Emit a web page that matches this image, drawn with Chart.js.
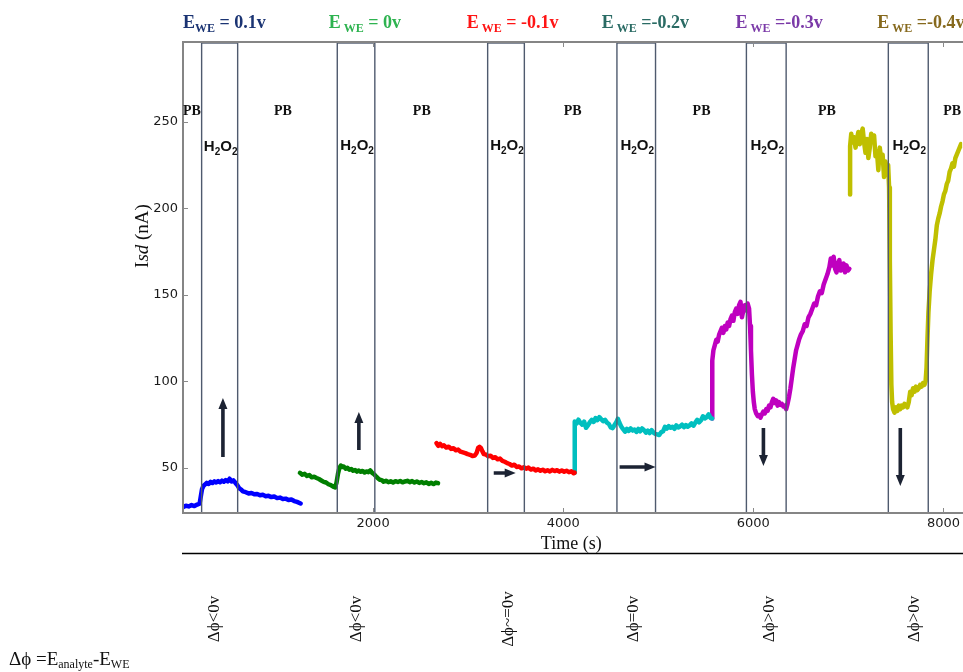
<!DOCTYPE html>
<html>
<head>
<meta charset="utf-8">
<script src="https://cdn.jsdelivr.net/npm/chart.js@4.4.1/dist/chart.umd.min.js"></script>
<style>
  html, body { margin: 0; padding: 0; background: #ffffff; }
  #wrap { width: 963px; height: 672px; position: relative; }
</style>
</head>
<body>
<div id="wrap"><canvas id="chart"></canvas></div>
<script>
// ---- axis ticks ----
const xTicks = [2000, 4000, 6000, 8000];
const yTicks = [50, 100, 150, 200, 250];

// ---- source-drain current traces, one per working-electrode potential ----
// E_WE = 0.1 V
const blueT = [0,30,60,90,120,150,175,190,200,215,230,250,270,290,310,330,350,370,390,410,430,450,470,490,510,530,550,570,590,610,630,660,690,720,750,780,810,840,870,900,930,960,990,1020,1050,1080,1110,1140,1170,1200,1237];
const blueI = [27.4,28.2,27.8,28.6,28.0,28.9,29.4,34.5,37.8,39.6,40.4,41.4,40.8,42.0,41.3,42.3,41.6,42.4,41.8,42.7,42.1,43.0,42.3,43.8,42.2,42.9,41.5,40.2,38.4,37.6,36.5,36.0,35.3,35.6,34.8,35.0,34.2,34.5,33.7,33.9,33.2,33.5,32.6,32.9,32.1,32.3,31.5,31.8,30.9,30.4,29.5];
// E_WE = 0 V
const greenT = [1230,1255,1280,1305,1330,1355,1380,1405,1430,1455,1480,1505,1530,1555,1580,1600,1615,1630,1645,1660,1675,1690,1710,1730,1750,1770,1790,1810,1830,1850,1870,1890,1910,1930,1950,1970,1990,2010,2030,2050,2070,2090,2110,2135,2160,2185,2210,2235,2260,2285,2310,2335,2360,2385,2410,2435,2460,2485,2510,2535,2560,2585,2610,2635,2660,2683];
const greenI = [47.2,46.1,46.6,45.4,45.9,44.6,44.9,44.2,43.6,42.8,42.0,41.6,40.6,40.1,39.2,38.8,41.5,46.5,50.0,51.4,50.6,50.9,49.6,50.1,49.0,49.4,48.4,48.8,47.9,48.5,47.8,48.3,47.4,48.0,47.6,48.6,47.2,46.4,45.2,44.1,43.2,43.0,42.1,42.6,41.8,42.3,41.6,42.4,41.9,42.5,41.7,42.2,42.6,41.8,42.4,41.6,42.2,41.4,41.9,41.2,41.7,40.8,41.4,40.7,41.6,41.2];
// E_WE = -0.1 V
const redT = [2666,2685,2705,2725,2745,2770,2795,2820,2845,2870,2895,2920,2945,2970,2995,3020,3045,3070,3090,3105,3120,3135,3150,3165,3185,3210,3235,3260,3285,3310,3335,3360,3385,3410,3435,3460,3485,3510,3535,3560,3585,3610,3635,3660,3685,3710,3735,3760,3785,3810,3835,3860,3885,3910,3935,3960,3985,4010,4035,4060,4085,4110,4120];
const redI = [64.4,62.8,63.9,62.6,63.1,61.8,62.3,61.0,61.4,60.2,60.6,59.4,59.0,58.6,58.0,57.6,56.9,57.2,58.8,61.6,62.2,61.4,59.6,58.0,57.8,56.8,57.1,55.8,56.2,55.0,55.4,54.1,53.6,52.8,52.3,51.4,51.9,50.6,50.9,49.8,50.4,49.6,50.2,49.1,49.6,48.6,49.2,48.4,49.0,48.1,48.7,48.0,48.9,48.2,48.7,47.9,48.6,47.8,48.4,47.6,48.1,47.0,47.3];
// E_WE = -0.2 V
const cyanT = [4120,4121,4140,4160,4180,4200,4220,4240,4260,4280,4300,4320,4340,4360,4380,4400,4420,4440,4460,4480,4500,4520,4540,4560,4575,4590,4610,4630,4650,4670,4690,4710,4730,4750,4770,4790,4810,4830,4850,4870,4890,4910,4930,4950,4970,4990,5010,5030,5050,5070,5090,5110,5130,5150,5170,5190,5210,5230,5250,5270,5290,5310,5330,5350,5370,5390,5410,5430,5450,5470,5490,5510,5530,5550,5567];
const cyanI = [47.3,76.8,75.6,77.9,76.2,75.0,76.8,73.2,74.6,76.4,77.8,76.6,78.8,77.6,79.4,78.2,77.0,77.8,76.2,75.4,73.4,73.0,74.8,76.6,78.4,76.2,74.0,72.4,71.0,72.6,71.4,72.8,71.6,72.2,70.8,72.6,71.2,72.8,71.8,70.4,71.6,70.2,71.8,70.4,69.6,69.4,69.0,70.6,71.2,73.8,72.8,74.2,73.2,73.8,72.6,74.6,73.4,74.0,75.0,73.6,74.8,73.8,74.6,75.8,74.4,76.2,77.8,76.4,77.6,79.8,78.6,79.4,81.0,78.8,78.6];
// E_WE = -0.3 V
const magentaT = [5567,5568,5580,5595,5610,5625,5640,5655,5670,5685,5700,5715,5730,5745,5760,5775,5790,5805,5820,5835,5850,5865,5880,5895,5910,5925,5940,5955,5965,5975,5985,5995,6005,6015,6030,6045,6060,6075,6090,6105,6120,6135,6150,6165,6180,6195,6210,6225,6240,6255,6270,6285,6300,6315,6330,6345,6360,6375,6390,6405,6420,6435,6450,6465,6480,6500,6520,6540,6560,6580,6600,6620,6640,6660,6680,6700,6720,6740,6760,6780,6800,6815,6830,6845,6860,6875,6890,6905,6920,6935,6950,6965,6980,6995,7010,7028];
const magentaI = [78.6,112,118,121,124,123,127,129,131,128,132,130,134,132,136,138,135,140,142,139,144,146,137,141,144,141,145,142,132,118,104,94,88,84,81.5,80,80.5,79,81,82.5,81.5,84,83,86,85,88,90,87.5,89,86,88,86.5,87,85.5,86,84,87,91,96,102,108,113,118,121,124,127,129,133,132,137,139,142,145,144,149,152,151,156,159,162,166,171,167,172,165,163,168,170,164,166,168,163,167,164,165];
// E_WE = -0.4 V
const yellowT = [7017,7018,7030,7045,7060,7075,7090,7105,7120,7135,7150,7165,7180,7195,7210,7225,7240,7255,7270,7285,7300,7315,7330,7345,7360,7375,7390,7405,7418,7428,7436,7444,7452,7460,7470,7485,7500,7515,7530,7545,7560,7575,7590,7605,7620,7635,7650,7665,7680,7695,7710,7725,7740,7755,7770,7785,7800,7812,7822,7832,7842,7855,7870,7885,7900,7915,7930,7945,7960,7975,7990,8005,8020,8035,8050,8065,8080,8095,8110,8125,8140,8155,8170,8185,8197];
const yellowI = [208,236,243,238,241,235,240,244,237,243,246,238,232,240,229,235,243,239,242,230,233,222,235,228,231,218,227,221,225,212,170,128,98,88,84,82,85,83,86,84,86,85,87,86,85,88,94,92,96,94,97,95,96,98,97,99,98,100,108,125,140,152,162,170,176,182,190,194,197,201,204,208,210,214,216,221,223,226,224,229,231,233,235,237,236];

// ---- H2O2 exposure windows (s) ----
const h2o2Start = [196, 1623, 3205, 4565, 5927, 7420];
const h2o2End   = [575, 2018, 3591, 4971, 6345, 7840];

// ---- labels ----
const eweValues = [' = 0.1v', ' = 0v', ' = -0.1v', ' =-0.2v', ' =-0.3v', ' =-0.4v'];
const eweColors = ['#1b3473', '#2eb350', '#ff1414', '#2a6b64', '#7b3aa8', '#86691d'];
const deltaLabels = ['\u0394\u03d5<0v', '\u0394\u03d5<0v', '\u0394\u03d5~=0v', '\u0394\u03d5=0v', '\u0394\u03d5>0v', '\u0394\u03d5>0v'];

// ---- annotation placement (time axis, s; current axis, nA) ----
const eweLabelAt = [0, 1534, 2985, 4404, 5812, 7304];
const pbLabelAt = [0, 1051, 2512, 4099, 5455, 6774, 8092];
const deltaLabelAt = [336, 1829, 3426, 4740, 6169, 7693];
const arrowFrom = [[420, 56.3], [1850, 60.4], [3269, 47.1], [4593, 50.6], [6106, 73.1], [7546, 73.1]];
const arrowTo   = [[420, 90.4], [1850, 82.3], [3500, 47.1], [4971, 50.6], [6106, 51.2], [7546, 39.6]];

const pts = (t, v) => t.map((x, i) => ({ x: x, y: v[i] }));
const trace = (t, v, color) => ({
  data: pts(t, v), borderColor: color, backgroundColor: color,
  borderWidth: 4.5, pointRadius: 0, tension: 0, fill: false,
  borderJoinStyle: 'round', borderCapStyle: 'round'
});

const SERIF = '"Liberation Serif", "Times New Roman", serif';
const SANS = '"Liberation Sans", Arial, sans-serif';

function richText(ctx, x, y, parts, color) {
  let cx = x;
  for (const p of parts) {
    ctx.font = p.font;
    ctx.fillStyle = p.color || color;
    ctx.fillText(p.t, cx, y + (p.dy || 0));
    cx += ctx.measureText(p.t).width;
  }
  return cx - x;
}
function richWidth(ctx, parts) {
  let w = 0;
  for (const p of parts) { ctx.font = p.font; w += ctx.measureText(p.t).width; }
  return w;
}

function arrow(ctx, x0, y0, x1, y1) {
  const ang = Math.atan2(y1 - y0, x1 - x0);
  const len = Math.hypot(x1 - x0, y1 - y0);
  const headL = 11, headW = 4.5, shaft = 1.8;
  ctx.save();
  ctx.translate(x0, y0);
  ctx.rotate(ang);
  ctx.fillStyle = '#1c2333';
  ctx.beginPath();
  ctx.moveTo(0, -shaft);
  ctx.lineTo(len - headL, -shaft);
  ctx.lineTo(len - headL, -headW);
  ctx.lineTo(len, 0);
  ctx.lineTo(len - headL, headW);
  ctx.lineTo(len - headL, shaft);
  ctx.lineTo(0, shaft);
  ctx.closePath();
  ctx.fill();
  ctx.restore();
}

const decor = {
  id: 'decor',
  afterDatasetsDraw(chart) {
    const { ctx, chartArea: a, scales: { x, y } } = chart;
    ctx.save();
    // H2O2 windows
    ctx.strokeStyle = '#4f5a6e';
    ctx.lineWidth = 1.4;
    for (let i = 0; i < h2o2Start.length; i++) {
      const l = x.getPixelForValue(h2o2Start[i]);
      const r = x.getPixelForValue(h2o2End[i]);
      ctx.strokeRect(l, a.top + 1, r - l, a.bottom - a.top - 1);
    }
    // arrows
    for (let i = 0; i < arrowFrom.length; i++) {
      arrow(ctx, x.getPixelForValue(arrowFrom[i][0]), y.getPixelForValue(arrowFrom[i][1]),
                 x.getPixelForValue(arrowTo[i][0]), y.getPixelForValue(arrowTo[i][1]));
    }
    // frame
    ctx.strokeStyle = '#858585';
    ctx.lineWidth = 2;
    ctx.beginPath();
    ctx.moveTo(a.right + 2, a.top);
    ctx.lineTo(a.left, a.top);
    ctx.lineTo(a.left, a.bottom);
    ctx.lineTo(a.right + 2, a.bottom);
    ctx.stroke();
    // inward tick marks
    ctx.lineWidth = 1;
    ctx.strokeStyle = '#8a8a8a';
    ctx.beginPath();
    for (const t of x.ticks) {
      const px = Math.round(x.getPixelForValue(t.value)) + 0.5;
      ctx.moveTo(px, a.bottom); ctx.lineTo(px, a.bottom - 5);
      ctx.moveTo(px, a.top); ctx.lineTo(px, a.top + 5);
    }
    for (const t of y.ticks) {
      const py = Math.round(y.getPixelForValue(t.value)) + 0.5;
      ctx.moveTo(a.left, py); ctx.lineTo(a.left + 5, py);
    }
    ctx.stroke();
    ctx.restore();
  },
  afterDraw(chart) {
    const { ctx, chartArea: a, scales: { x, y } } = chart;
    ctx.save();
    ctx.textBaseline = 'alphabetic';
    ctx.textAlign = 'left';

    // potential headings
    for (let i = 0; i < eweValues.length; i++) {
      const parts = [
        { t: 'E', font: 'bold 18px ' + SERIF },
        { t: i === 0 ? 'WE' : ' WE', font: 'bold 12px ' + SERIF, dy: 4 },
        { t: eweValues[i], font: 'bold 18px ' + SERIF }
      ];
      richText(ctx, x.getPixelForValue(eweLabelAt[i]), 28, parts, eweColors[i]);
    }

    // PB labels
    ctx.fillStyle = '#111';
    ctx.font = 'bold 14px ' + SERIF;
    for (let i = 0; i < pbLabelAt.length; i++) {
      const px = x.getPixelForValue(pbLabelAt[i]);
      ctx.textAlign = i === 0 ? 'left' : 'center';
      ctx.fillText('PB', px, 115);
    }
    ctx.textAlign = 'left';

    // H2O2 labels
    for (let i = 0; i < h2o2Start.length; i++) {
      const parts = [
        { t: 'H', font: 'bold 15px ' + SANS },
        { t: '2', font: 'bold 10px ' + SANS, dy: 4 },
        { t: 'O', font: 'bold 15px ' + SANS },
        { t: '2', font: 'bold 10px ' + SANS, dy: 4 }
      ];
      const cx = (x.getPixelForValue(h2o2Start[i]) + x.getPixelForValue(h2o2End[i])) / 2;
      const w = richWidth(ctx, parts);
      richText(ctx, cx - w / 2 + 1, i === 0 ? 151 : 150, parts, '#111');
    }

    // y title
    {
      const parts = [
        { t: 'I', font: '19px ' + SERIF },
        { t: 'sd', font: 'italic 19px ' + SERIF },
        { t: ' (nA)', font: '19px ' + SERIF }
      ];
      ctx.save();
      ctx.translate(148, 236);
      ctx.rotate(-Math.PI / 2);
      const w = richWidth(ctx, parts);
      richText(ctx, -w / 2, 0, parts, '#111');
      ctx.restore();
    }

    // x title and rule beneath
    ctx.fillStyle = '#111';
    ctx.font = '18px ' + SERIF;
    ctx.textAlign = 'center';
    ctx.fillText('Time (s)', (x.getPixelForValue(4000) + 8) , 549);
    ctx.strokeStyle = '#000';
    ctx.lineWidth = 1.5;
    ctx.beginPath();
    ctx.moveTo(a.left - 1, 553.5);
    ctx.lineTo(chart.width, 553.5);
    ctx.stroke();

    // phase-difference notes
    ctx.font = '17px ' + SERIF;
    ctx.textBaseline = 'middle';
    for (let i = 0; i < deltaLabels.length; i++) {
      ctx.save();
      ctx.translate(x.getPixelForValue(deltaLabelAt[i]), 619);
      ctx.rotate(-Math.PI / 2);
      ctx.textAlign = 'center';
      ctx.fillText(deltaLabels[i], 0, 0);
      ctx.restore();
    }
    ctx.textBaseline = 'alphabetic';
    ctx.textAlign = 'left';
    richText(ctx, 9, 665, [
      { t: '\u0394\u03d5 =E', font: '19px ' + SERIF },
      { t: 'analyte', font: '12px ' + SERIF, dy: 3 },
      { t: '-E', font: '19px ' + SERIF },
      { t: 'WE', font: '12px ' + SERIF, dy: 3 }
    ], '#111');
    ctx.restore();
  }
};

new Chart(document.getElementById('chart'), {
  type: 'line',
  data: {
    datasets: [
      trace(blueT, blueI, '#0000ff'),
      trace(greenT, greenI, '#007f00'),
      trace(redT, redI, '#ff0000'),
      trace(cyanT, cyanI, '#00bfbf'),
      trace(magentaT, magentaI, '#bf00bf'),
      trace(yellowT, yellowI, '#bfbf00')
    ]
  },
  options: {
    responsive: true,
    maintainAspectRatio: false,
    animation: false,
    devicePixelRatio: 1,
    layout: { padding: { left: 0, top: 42, right: 0, bottom: 129 } },
    plugins: { legend: { display: false }, tooltip: { enabled: false } },
    scales: {
      x: {
        type: 'linear', min: 0, max: 8197,
        afterBuildTicks: s => { s.ticks = xTicks.map(v => ({ value: v })); },
        afterFit: s => { s.height = 30; },
        grid: { display: false, drawTicks: false },
        border: { display: false },
        ticks: { color: '#1a1a1a', padding: 3, maxRotation: 0, autoSkip: false,
                 font: { family: '"DejaVu Sans"', size: 13 }, callback: v => String(v) }
      },
      y: {
        type: 'linear', min: 24, max: 296,
        afterBuildTicks: s => { s.ticks = yTicks.map(v => ({ value: v })); },
        afterFit: s => { s.width = 183; },
        grid: { display: false, drawTicks: false },
        border: { display: false },
        ticks: { color: '#1a1a1a', padding: 5,
                 font: { family: '"DejaVu Sans"', size: 13 }, callback: v => String(v) }
      }
    }
  },
  plugins: [decor]
});
</script>
</body>
</html>
